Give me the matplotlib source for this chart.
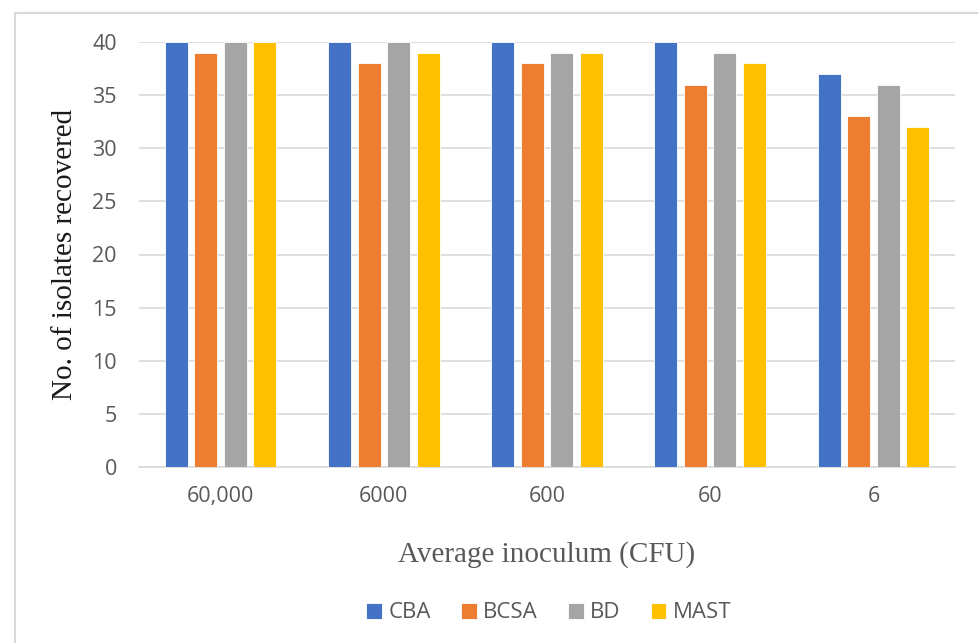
import numpy as np
import matplotlib.pyplot as plt
from matplotlib.patches import Rectangle

# data
inoculum = ['60,000', '6000', '600', '60', '6']
media = ['CBA', 'BCSA', 'BD', 'MAST']
cba = [40, 40, 40, 40, 37]
bcsa = [39, 38, 38, 36, 33]
bd = [40, 40, 39, 39, 36]
mast = [40, 39, 39, 38, 32]
colors = ['#4472C4', '#ED7D31', '#A5A5A5', '#FFC000']

text_gray = '#595959'
grid_gray = '#D9D9D9'

fig = plt.figure(figsize=(9.79, 6.43), dpi=100)
ax = fig.add_axes([139 / 979, 1 - 467 / 643, 816 / 979, 425 / 643])

# chart area frame (cut off on right and bottom)
fig.patches.append(Rectangle((15 / 979, -0.1), 1.1, 1 - 13 / 643 + 0.1,
                             transform=fig.transFigure, fill=False,
                             edgecolor='#D9D9D9', linewidth=1.5, zorder=0))

x = np.arange(len(inoculum))
width = 0.141
step = 0.181
for i, (vals, name) in enumerate(zip([cba, bcsa, bd, mast], media)):
    ax.bar(x + (i - 1.5) * step, vals, width, color=colors[i], label=name,
           edgecolor='white', linewidth=0.6, zorder=3)

ax.set_xlim(-0.5, len(inoculum) - 0.5)
ax.set_ylim(0, 40)
ax.set_yticks(range(0, 41, 5))
ax.set_xticks(x)
ax.set_xticklabels(inoculum)
ax.yaxis.grid(True, color=grid_gray, linewidth=1.2, zorder=0)
ax.set_axisbelow(True)
for s in ['top', 'right', 'left']:
    ax.spines[s].set_visible(False)
ax.spines['bottom'].set_color(grid_gray)
ax.spines['bottom'].set_linewidth(1.2)
ax.tick_params(axis='both', length=0, labelsize=15.5, labelcolor=text_gray)
ax.tick_params(axis='x', pad=14)
ax.tick_params(axis='y', pad=16)
for lbl in ax.get_xticklabels() + ax.get_yticklabels():
    lbl.set_family('Open Sans')

ax.set_ylabel('No. of isolates recovered', family='Liberation Serif',
              fontsize=21, color='#1a1a1a', labelpad=10)
ax.set_xlabel('Average inoculum (CFU)', family='Liberation Serif',
              fontsize=21, color=text_gray, labelpad=24)

leg = fig.legend(loc='center', bbox_to_anchor=(549 / 979, 1 - 613 / 643),
                 ncol=4, frameon=False, handlelength=0.7,
                 handleheight=0.7, handletextpad=0.3, columnspacing=1.35,
                 prop={'family': 'Open Sans', 'size': 16})
for t in leg.get_texts():
    t.set_color(text_gray)

fig.savefig('out.png', dpi=100)
